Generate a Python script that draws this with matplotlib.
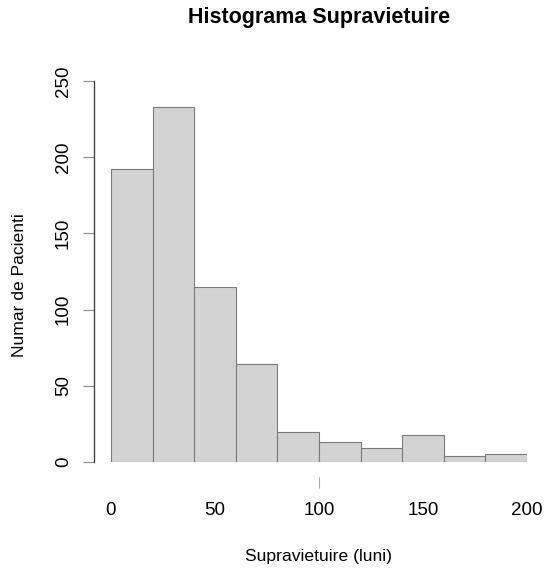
import matplotlib
matplotlib.use("Agg")
import matplotlib.pyplot as plt
import matplotlib.transforms as mtrans

plt.rcParams['font.family'] = ['Liberation Sans', 'DejaVu Sans']

bin_edges = [0, 20, 40, 60, 80, 100, 120, 140, 160, 180, 200]
counts = [192, 233, 115, 64, 20, 13, 9, 18, 4, 5]
x_ticks = [0, 50, 100, 150, 200]
y_ticks = [0, 50, 100, 150, 200, 250]

W, H = 544, 573
fig = plt.figure(figsize=(W / 100, H / 100), dpi=100)
ax = fig.add_axes([111 / W, (H - 462) / H, (527 - 111) / W, (462 - 81) / H])

lefts = bin_edges[:-1]
widths = [bin_edges[i + 1] - bin_edges[i] for i in range(len(counts))]
ax.bar(lefts, counts, width=widths, align='edge', color='#d3d3d3',
       edgecolor='#7a7a7a', linewidth=0.8)

ax.set_xlim(0, 200)
ax.set_ylim(0, 250)

for s in ['top', 'right']:
    ax.spines[s].set_visible(False)
ax.spines['bottom'].set_visible(False)
ax.spines['left'].set_position(('outward', 12.2))
ax.spines['left'].set_color('#444444')
ax.spines['left'].set_linewidth(1.0)

ax.set_xticks(x_ticks)
ax.set_yticks(y_ticks)
ax.set_yticklabels([str(v) for v in y_ticks], rotation=90, va='center')
ax.tick_params(axis='y', length=8, width=0.8, color='#888888', labelsize=13.5, pad=8)
ax.tick_params(axis='x', length=8, width=0.8, color='#aaaaaa', labelsize=13.5, pad=21)
for i, t in enumerate(ax.xaxis.get_major_ticks()):
    if x_ticks[i] != 100:
        t.tick1line.set_visible(False)
off = mtrans.ScaledTranslation(0, -15 / 100, fig.dpi_scale_trans)
for t in ax.xaxis.get_major_ticks():
    t.tick1line.set_transform(t.tick1line.get_transform() + off)

fig.text(319 / W, 1 - 18 / H, 'Histograma Supravietuire', ha='center', va='center',
         fontsize=15.5, fontweight='bold')
fig.text(319 / W, 1 - 557 / H, 'Supravietuire (luni)', ha='center', va='center',
         fontsize=12.6)
fig.text(20 / W, 1 - 285 / H, 'Numar de Pacienti', ha='center', va='center',
         rotation=90, fontsize=12.6)

fig.savefig('out.png', dpi=100)
